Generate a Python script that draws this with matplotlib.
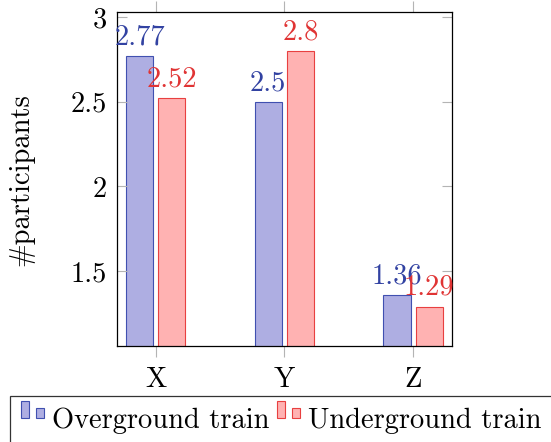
import matplotlib
matplotlib.use("Agg")
import matplotlib.pyplot as plt
from matplotlib.patches import Patch, Rectangle
from matplotlib.legend_handler import HandlerBase
import numpy as np

plt.rcParams['font.family'] = 'cmr10'
plt.rcParams['mathtext.fontset'] = 'cm'
plt.rcParams['axes.unicode_minus'] = False
plt.rcParams['font.size'] = 20.5

# data
categories = ['X', 'Y', 'Z']
overground = [2.77, 2.5, 1.36]
underground = [2.52, 2.8, 1.29]
overground_labels = ['2.77', '2.5', '1.36']
underground_labels = ['2.52', '2.8', '1.29']

blue_fill, blue_edge, blue_text = '#aeaee2', '#4050b0', '#3242a2'
red_fill, red_edge, red_text = '#ffb2b2', '#e84040', '#e03434'


class TwoBarHandler(HandlerBase):
    # small ybar legend icon: a tall bar next to a shorter one
    def create_artists(self, legend, orig_handle, xdescent, ydescent,
                       width, height, fontsize, trans):
        bw = width * 0.35
        y0 = -ydescent + 0.28 * fontsize
        r1 = Rectangle((-xdescent, y0), bw, height)
        r2 = Rectangle((-xdescent + width - bw, y0), bw, height * 0.6)
        for r in (r1, r2):
            r.set_facecolor(orig_handle.get_facecolor())
            r.set_edgecolor(orig_handle.get_edgecolor())
            r.set_linewidth(0.8)
            r.set_transform(trans)
        return [r1, r2]


fig = plt.figure(figsize=(5.51, 4.42), dpi=100)
ax = fig.add_axes([117 / 551, 1 - 346 / 442, 334.7 / 551, 333.7 / 442])

x = np.arange(len(categories))
w = 0.21
b1 = ax.bar(x - 0.125, overground, w, bottom=0, color=blue_fill,
            edgecolor=blue_edge, linewidth=0.8)
b2 = ax.bar(x + 0.125, underground, w, bottom=0, color=red_fill,
            edgecolor=red_edge, linewidth=0.8)

ax.bar_label(b1, labels=overground_labels, padding=4, color=blue_text)
ax.bar_label(b2, labels=underground_labels, padding=4, color=red_text)

ax.set_xlim(-0.3, 2.3)
ax.set_ylim(1.057, 3.028)
ax.set_xticks(x)
ax.set_xticklabels(categories)
ax.set_yticks([1.5, 2, 2.5, 3])
ax.set_yticklabels(['1.5', '2', '2.5', '3'])

ax.tick_params(axis='y', direction='in', left=True, right=True, length=7.5,
               width=0.8, color='#b4b4b4', pad=7)
ax.tick_params(axis='x', direction='out', bottom=True, top=True, length=8,
               width=0.8, color='#b4b4b4', pad=7)
for s in ax.spines.values():
    s.set_linewidth(0.9)

ax.set_ylabel('#participants', labelpad=26)

h1 = Patch(facecolor=blue_fill, edgecolor=blue_edge)
h2 = Patch(facecolor=red_fill, edgecolor=red_edge)
leg = fig.legend([h1, h2], ['Overground train', 'Underground train'],
                 handler_map={Patch: TwoBarHandler()},
                 loc='upper left', bbox_to_anchor=(10 / 551, 1 - 396 / 442),
                 bbox_transform=fig.transFigure, borderaxespad=0,
                 ncol=2, handlelength=0.8, handleheight=0.55,
                 handletextpad=0.28, columnspacing=0.28, borderpad=0.4,
                 fancybox=False, framealpha=1, edgecolor='#333333')
leg.get_frame().set_linewidth(0.9)

fig.savefig('out.png', dpi=100)
